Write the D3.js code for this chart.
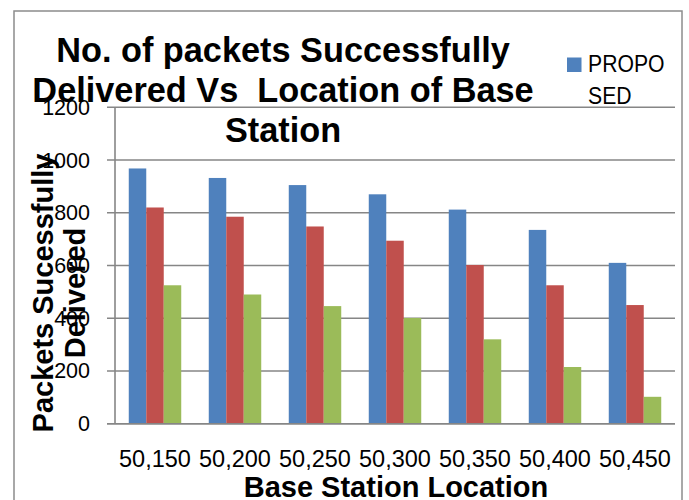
<!DOCTYPE html>
<html><head><meta charset="utf-8">
<script src="https://cdn.jsdelivr.net/npm/d3@7"></script>
<style>
html,body{margin:0;padding:0;background:#fff;}
svg{display:block;}
</style></head>
<body>
<svg id="chart" width="689" height="500"></svg>
<script>
const categories = ["50,150","50,200","50,250","50,300","50,350","50,400","50,450"];
const seriesNames = ["PROPOSED","EXISTING 1","EXISTING 2"];
const proposed = [968, 932, 905, 870, 812, 735, 610];
const existing1 = [820, 785, 748, 694, 602, 525, 450];
const existing2 = [525, 490, 446, 401, 320, 215, 102];
const yTicks = [0, 200, 400, 600, 800, 1000, 1200];
const seriesColors = ["#4F81BD", "#C0504D", "#9BBB59"];
const titleLines = ["No. of packets Successfully", "Delivered Vs  Location of Base", "Station"];
const yTitleLines = ["Packets Sucessfully", "Delivered"];
const xTitle = "Base Station Location";

const seriesValues = [proposed, existing1, existing2];
const svg = d3.select("#chart");

// outer border
svg.append("rect").attr("x", 14).attr("y", 11).attr("width", 668).attr("height", 500)
  .attr("fill", "#fff").attr("stroke", "#8c8c8c").attr("stroke-width", 1.5);

const x = d3.scaleBand().domain(categories).range([115, 675]).paddingInner(0.344).paddingOuter(0.172);
const xs = d3.scaleBand().domain(d3.range(seriesNames.length)).range([0, x.bandwidth()]);
const y = d3.scaleLinear().domain([0, 1200]).range([423.7, 107.3]);

// gridlines
svg.append("g").selectAll("line").data(yTicks).join("line")
  .attr("x1", 107).attr("x2", 675)
  .attr("y1", d => y(d)).attr("y2", d => y(d))
  .attr("stroke", "#868686").attr("stroke-width", 1.6);

// y axis line
svg.append("line").attr("x1", 115).attr("x2", 115).attr("y1", y(1200)).attr("y2", y(0))
  .attr("stroke", "#868686").attr("stroke-width", 1.6);

// y tick labels
svg.append("g").selectAll("text").data(yTicks).join("text")
  .attr("x", 90).attr("y", d => y(d)).attr("dy", "0.35em")
  .attr("text-anchor", "end")
  .attr("font-family", "'Liberation Sans', Arial, sans-serif").attr("font-size", 21.5)
  .attr("fill", "#000").text(d => d);

// bars
const groups = svg.append("g").selectAll("g").data(seriesValues).join("g")
  .attr("fill", (d, i) => seriesColors[i]);
groups.each(function(vals, si) {
  d3.select(this).selectAll("rect").data(vals).join("rect")
    .attr("x", (v, ci) => x(categories[ci]) + xs(si))
    .attr("width", xs.bandwidth())
    .attr("y", v => y(v))
    .attr("height", v => y(0) - y(v));
});

// redraw baseline over bars
svg.append("line").attr("x1", 107).attr("x2", 675).attr("y1", y(0)).attr("y2", y(0))
  .attr("stroke", "#868686").attr("stroke-width", 1.6);

// x tick labels
svg.append("g").selectAll("text").data(categories).join("text")
  .attr("x", d => x(d) + x.bandwidth() / 2).attr("y", 466.5)
  .attr("text-anchor", "middle")
  .attr("font-family", "'Liberation Sans', Arial, sans-serif").attr("font-size", 23.5)
  .attr("fill", "#000").text(d => d);

// x title
svg.append("text").attr("x", 396).attr("y", 497)
  .attr("text-anchor", "middle")
  .attr("font-family", "'Liberation Sans', Arial, sans-serif").attr("font-weight", "bold")
  .attr("font-size", 29).attr("fill", "#000").text(xTitle);

// y title
const yt = svg.append("g").attr("transform", "translate(0,293) rotate(-90)");
yt.selectAll("text").data(yTitleLines).join("text")
  .attr("x", 0).attr("y", (d, i) => 53 + i * 32)
  .attr("text-anchor", "middle")
  .attr("font-family", "'Liberation Sans', Arial, sans-serif").attr("font-weight", "bold")
  .attr("font-size", 29).attr("fill", "#000").text(d => d);

// chart title
svg.append("g").selectAll("text").data(titleLines).join("text")
  .attr("x", 283).attr("y", (d, i) => 61.7 + i * 40)
  .attr("text-anchor", "middle")
  .attr("font-family", "'Liberation Sans', Arial, sans-serif").attr("font-weight", "bold")
  .attr("font-size", 34.3).attr("fill", "#000")
  .style("white-space", "pre").text(d => d);

// legend (only first entry visible in reference)
const leg = svg.append("g").selectAll("g").data(seriesNames.slice(0, 1)).join("g");
leg.append("rect").attr("x", 567).attr("y", 57.5).attr("width", 14.5).attr("height", 14.5)
  .attr("fill", (d, i) => seriesColors[i]);
leg.append("text").attr("transform", "translate(588,0) scale(0.865,1)")
  .attr("font-family", "'Liberation Sans', Arial, sans-serif")
  .attr("font-size", 24.5).attr("fill", "#000")
  .selectAll("tspan").data(d => [d.slice(0, 5), d.slice(5)]).join("tspan")
  .attr("x", 0).attr("y", (d, i) => 72.5 + i * 32).text(d => d);
</script>
</body></html>
